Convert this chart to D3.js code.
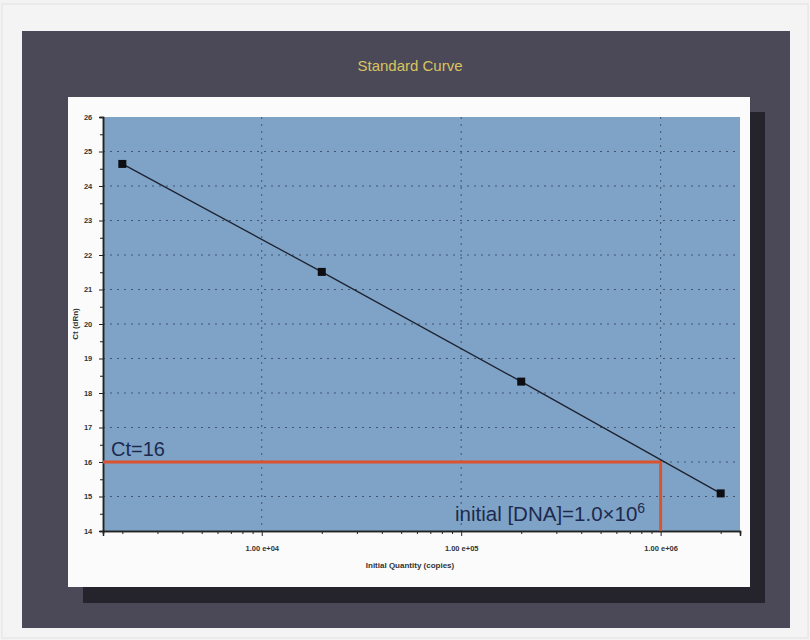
<!DOCTYPE html>
<html><head><meta charset="utf-8">
<script src="https://cdn.jsdelivr.net/npm/d3@7"></script>
<style>html,body{margin:0;padding:0;background:#f3f3f3;}svg{display:block;}</style>
</head><body>
<svg id="chart" width="810" height="640"></svg>
<script>
// ---- data ----
const quantities = [2e3, 2e4, 2e5, 2e6];
const ctValues = [24.64, 21.51, 18.33, 15.09];
const yTickValues = [14,15,16,17,18,19,20,21,22,23,24,25,26];
const xTickValues = [1e4, 1e5, 1e6];
const xTickLabels = ["1.00 e+04", "1.00 e+05", "1.00 e+06"];
const xDomain = [1.6e3, 2.5e6];
const yDomain = [14, 26];
const targetCt = 16;
const targetQty = 1e6;
const title = "Standard Curve";
const xTitle = "Initial Quantity (copies)";
const yTitle = "Ct (dRn)";

const svg = d3.select("#chart");
// page border
svg.append("rect").attr("x",2).attr("y",4).attr("width",806).attr("height",634)
  .attr("fill","#f4f4f4").attr("stroke","#e2e2e2");
// dark frame
svg.append("rect").attr("x",22).attr("y",31).attr("width",768).attr("height",597).attr("fill","#4b4957");
svg.append("text").attr("x",410).attr("y",71).attr("text-anchor","middle")
  .attr("font-family","Liberation Sans, Arial, sans-serif").attr("font-size",15)
  .attr("fill","#d9c45e").text(title);
// shadow
svg.append("rect").attr("x",83).attr("y",112).attr("width",682).attr("height",491).attr("fill","#25232b");
// white panel
svg.append("rect").attr("x",68).attr("y",97).attr("width",682).attr("height",490).attr("fill","#fbfbfb");

const L=103, R=740, T=117, B=531;
const x = d3.scaleLog().domain(xDomain).range([L,R]);
const y = d3.scaleLinear().domain(yDomain).range([B,T]);

svg.append("rect").attr("x",L).attr("y",T).attr("width",R-L).attr("height",B-T).attr("fill","#7fa3c7");

// grid
const g = svg.append("g");
g.selectAll(".hg").data(yTickValues.slice(1,-1)).join("line")
  .attr("x1",L).attr("x2",R).attr("y1",d=>y(d)).attr("y2",d=>y(d))
  .attr("stroke","#34425e").attr("stroke-width",1).attr("stroke-dasharray","2,5").attr("opacity",0.8);
g.selectAll(".vg").data(xTickValues).join("line")
  .attr("x1",d=>x(d)).attr("x2",d=>x(d)).attr("y1",T).attr("y2",B)
  .attr("stroke","#34425e").attr("stroke-width",1).attr("stroke-dasharray","2,5").attr("opacity",0.8);

// axes
const yAxis = d3.axisLeft(y).tickValues(yTickValues).tickSize(4).tickFormat(d3.format("d"));
const ya = svg.append("g").attr("transform",`translate(${L},0)`).call(yAxis);
const yMinor = d3.axisLeft(y).tickValues(d3.range(14.5,26,1)).tickSize(3).tickFormat("");
svg.append("g").attr("transform",`translate(${L},0)`).call(yMinor);
const xMinorVals = [];
[1e3,1e4,1e5,1e6].forEach(p=>{for(let k=2;k<=9;k++){const v=k*p; if(v>=xDomain[0]&&v<=xDomain[1]) xMinorVals.push(v);}});
const xMinor = d3.axisBottom(x).tickValues(xMinorVals).tickSize(3).tickFormat("");
svg.append("g").attr("transform",`translate(0,${B})`).call(xMinor);
const xAxis = d3.axisBottom(x).tickValues(xTickValues).tickSize(5).tickFormat((d,i)=>xTickLabels[i]);
const xa = svg.append("g").attr("transform",`translate(0,${B})`).call(xAxis);
svg.selectAll(".domain").attr("stroke","#222").attr("stroke-width",1.5);
svg.selectAll(".tick line").attr("stroke","#222");
[ya,xa].forEach(a=>a.selectAll("text").attr("font-family","Liberation Sans, Arial, sans-serif")
  .attr("font-size",7.5).attr("font-weight","bold").attr("fill","#333"));
xa.selectAll("text").attr("dy","1.6em");
ya.selectAll("text").attr("dx","-0.5em");

svg.append("text").attr("transform",`translate(78,${(T+B)/2}) rotate(-90)`).attr("text-anchor","middle")
  .attr("font-family","Liberation Sans, Arial, sans-serif").attr("font-size",8).attr("font-weight","bold")
  .attr("fill","#333").text(yTitle);
svg.append("text").attr("x",410).attr("y",568).attr("text-anchor","middle")
  .attr("font-family","Liberation Sans, Arial, sans-serif").attr("font-size",8).attr("font-weight","bold")
  .attr("fill","#333").text(xTitle);

// red lines
svg.append("line").attr("x1",L).attr("x2",x(targetQty)).attr("y1",y(targetCt)).attr("y2",y(targetCt))
  .attr("stroke","#d9532f").attr("stroke-width",3);
svg.append("line").attr("x1",x(targetQty)).attr("x2",x(targetQty)).attr("y1",y(targetCt)-1.5).attr("y2",B)
  .attr("stroke","#d9532f").attr("stroke-width",3);

// curve
const pts = quantities.map((q,i)=>[q,ctValues[i]]);
svg.append("path").datum(pts).attr("fill","none").attr("stroke","#1d2230").attr("stroke-width",1.3)
  .attr("d",d3.line().x(d=>x(d[0])).y(d=>y(d[1])));
svg.selectAll(".pt").data(pts).join("rect")
  .attr("x",d=>x(d[0])-4).attr("y",d=>y(d[1])-4).attr("width",8).attr("height",8).attr("fill","#0d0d12");

// annotations
svg.append("text").attr("x",111).attr("y",456).attr("font-family","Liberation Sans, Arial, sans-serif")
  .attr("font-size",20).attr("fill","#1c2a4e").text("Ct=16");
const ann = svg.append("text").attr("x",455).attr("y",521).attr("font-family","Liberation Sans, Arial, sans-serif")
  .attr("font-size",20.5).attr("fill","#1c2a4e");
ann.append("tspan").text("initial [DNA]=1.0×10");
ann.append("tspan").attr("font-size",14).attr("dy",-8).text("6");
</script>
</body></html>
